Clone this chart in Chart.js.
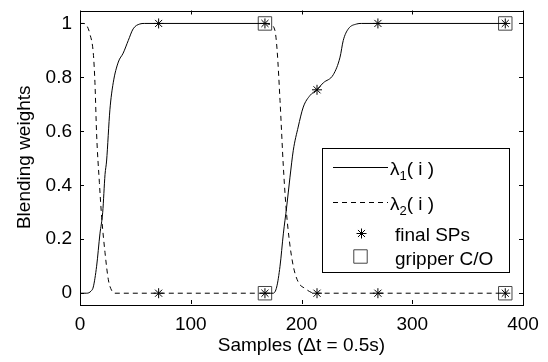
<!DOCTYPE html>
<html>
<head>
<meta charset="utf-8">
<script src="https://cdn.jsdelivr.net/npm/chart.js@4/dist/chart.umd.min.js"></script>
<style>
  html, body { margin: 0; padding: 0; background: #fff; }
</style>
</head>
<body>
<canvas id="chart" width="548" height="362"></canvas>
<script>
// lambda_1 (solid), null marks the break at the gripper change
const lam1X = [0, 6, 10, 12, 15, 18, 20.5, 22.6, 24, 27, 30, 34.6, 39, 43.6, 48, 54, 58, 167, 167, 167, 174.5, 177.6, 180.6, 183.6, 186.6, 189.6, 192.6, 197, 201.6, 207.7, 213.7, 219.7, 228.7, 234.8, 237.7, 242.3, 249.8, 254, 385];
const lam1Y = [0, 0, 0.008, 0.023, 0.1, 0.22, 0.30, 0.44, 0.49, 0.68, 0.78, 0.857, 0.89, 0.937, 0.98, 0.998, 1, 1, null, 0, 0, 0.023, 0.1, 0.22, 0.32, 0.43, 0.53, 0.616, 0.69, 0.733, 0.754, 0.78, 0.81, 0.875, 0.937, 0.98, 0.998, 1, 1];

// lambda_2 (dashed)
const lam2X = [0, 3, 6, 9, 12, 13.5, 15, 17.5, 19.6, 22.6, 25.6, 28.6, 31, 167, 167, 167, 172, 176, 178, 180.6, 183.6, 186, 189, 192.6, 197, 203, 212, 385];
const lam2Y = [1, 1, 0.993, 0.96, 0.89, 0.78, 0.59, 0.41, 0.28, 0.15, 0.05, 0.01, 0, 0, null, 1, 0.995, 0.974, 0.9, 0.715, 0.47, 0.32, 0.196, 0.1, 0.042, 0.018, 0, 0];

// final SPs (stars)
const spX = [71, 71, 167, 167, 214, 214, 269, 269, 384, 384];
const spY = [1, 0, 1, 0, 0.754, 0, 1, 0, 1, 0];

// gripper close/open (squares)
const coX = [167, 167, 384, 384];
const coY = [1, 0, 1, 0];

const xTicks = [0, 100, 200, 300, 400];
const yTicks = [0, 0.2, 0.4, 0.6, 0.8, 1];

const pts = (xs, ys) => xs.map((x, i) => ({ x: x, y: ys[i] }));

const FONT = "'Liberation Sans', Arial, sans-serif";
Chart.defaults.font.family = FONT;
Chart.defaults.font.size = 19;
Chart.defaults.color = '#000';

// matlab style box with inward ticks
const boxTicks = {
  id: 'boxTicks',
  afterDatasetsDraw(chart) {
    const { ctx, chartArea: a, scales: { x, y } } = chart;
    ctx.save();
    ctx.strokeStyle = '#000';
    ctx.lineWidth = 1;
    ctx.strokeRect(Math.round(a.left) + 0.5, Math.round(a.top) + 0.5,
      Math.round(a.right - a.left), Math.round(a.bottom - a.top));
    ctx.beginPath();
    xTicks.forEach(v => {
      const px = Math.round(x.getPixelForValue(v)) + 0.5;
      ctx.moveTo(px, a.bottom); ctx.lineTo(px, a.bottom - 4);
      ctx.moveTo(px, a.top); ctx.lineTo(px, a.top + 4);
    });
    yTicks.forEach(v => {
      const py = Math.round(y.getPixelForValue(v)) + 0.5;
      ctx.moveTo(a.left, py); ctx.lineTo(a.left + 4, py);
      ctx.moveTo(a.right, py); ctx.lineTo(a.right - 4, py);
    });
    ctx.stroke();
    ctx.restore();
  }
};

// legend box inside the axes
const boxLegend = {
  id: 'boxLegend',
  afterDraw(chart) {
    const { ctx } = chart;
    ctx.save();
    ctx.fillStyle = '#fff';
    ctx.fillRect(322, 148, 187, 124);
    ctx.strokeStyle = '#000';
    ctx.lineWidth = 1;
    ctx.strokeRect(322.5, 148.5, 187, 124);

    // line samples
    ctx.beginPath();
    ctx.moveTo(333, 167.5); ctx.lineTo(388, 167.5);
    ctx.stroke();
    ctx.setLineDash([5, 4]);
    ctx.beginPath();
    ctx.moveTo(333, 202.5); ctx.lineTo(388, 202.5);
    ctx.stroke();
    ctx.setLineDash([]);

    // markers
    Chart.helpers.drawPoint(ctx, { pointStyle: 'star', radius: 5, borderWidth: 1 }, 361.5, 233.5);
    ctx.strokeStyle = '#444';
    Chart.helpers.drawPoint(ctx, { pointStyle: 'rect', radius: 9.5, borderWidth: 1 }, 360.5, 256.5);

    // texts
    ctx.fillStyle = '#000';
    ctx.textBaseline = 'middle';
    ctx.textAlign = 'left';
    const lam = (label, yy) => {
      ctx.font = '19px ' + FONT;
      let xx = 390;
      ctx.fillText('\u03bb', xx, yy);
      xx += ctx.measureText('\u03bb').width;
      ctx.font = '13px ' + FONT;
      ctx.fillText(label, xx, yy + 6);
      xx += ctx.measureText(label).width;
      ctx.font = '19px ' + FONT;
      ctx.fillText('( i )', xx, yy);
    };
    lam('1', 170);
    lam('2', 205);
    ctx.font = '19px ' + FONT;
    ctx.fillText('final SPs', 395, 236);
    ctx.fillText('gripper C/O', 395, 260);
    ctx.restore();
  }
};

new Chart(document.getElementById('chart'), {
  type: 'line',
  data: {
    datasets: [
      {
        label: '\u03bb1(i)',
        data: pts(lam1X, lam1Y),
        borderColor: '#000',
        borderWidth: 1,
        pointRadius: 0,
        cubicInterpolationMode: 'monotone',
        spanGaps: false
      },
      {
        label: '\u03bb2(i)',
        data: pts(lam2X, lam2Y),
        borderColor: '#000',
        borderWidth: 1,
        borderDash: [5, 4],
        pointRadius: 0,
        cubicInterpolationMode: 'monotone',
        spanGaps: false
      },
      {
        label: 'final SPs',
        data: pts(spX, spY),
        showLine: false,
        pointStyle: 'star',
        pointRadius: 5,
        pointBorderColor: '#000',
        pointBorderWidth: 1
      },
      {
        label: 'gripper C/O',
        data: pts(coX, coY),
        showLine: false,
        pointStyle: 'rect',
        pointRadius: 9.5,
        pointBackgroundColor: 'rgba(0,0,0,0)',
        pointBorderColor: '#444',
        pointBorderWidth: 1
      }
    ]
  },
  options: {
    responsive: false,
    animation: false,
    devicePixelRatio: 1,
    layout: { padding: { left: 0, top: 10, right: 25, bottom: 0 } },
    plugins: { legend: { display: false }, tooltip: { enabled: false } },
    scales: {
      x: {
        type: 'linear',
        min: 0,
        max: 400,
        afterBuildTicks: s => { s.ticks = xTicks.map(v => ({ value: v })); },
        afterFit: s => { s.height = 58; },
        grid: { drawOnChartArea: false, drawTicks: false },
        border: { display: false },
        ticks: { padding: 9, maxRotation: 0, callback: v => String(v) },
        title: { display: true, text: 'Samples (\u0394t = 0.5s)', padding: { top: 0, bottom: 5 } }
      },
      y: {
        type: 'linear',
        min: -0.04,
        max: 1.048,
        afterBuildTicks: s => { s.ticks = yTicks.map(v => ({ value: v })); },
        afterFit: s => { s.width = 80; s.paddingTop = 0; s.paddingBottom = 0; },
        grid: { drawOnChartArea: false, drawTicks: false },
        border: { display: false },
        ticks: { padding: 8, callback: v => String(Math.round(v * 10) / 10) },
        title: { display: true, text: 'Blending weights', padding: { top: 13, bottom: 0 } }
      }
    }
  },
  plugins: [boxTicks, boxLegend]
});
</script>
</body>
</html>
